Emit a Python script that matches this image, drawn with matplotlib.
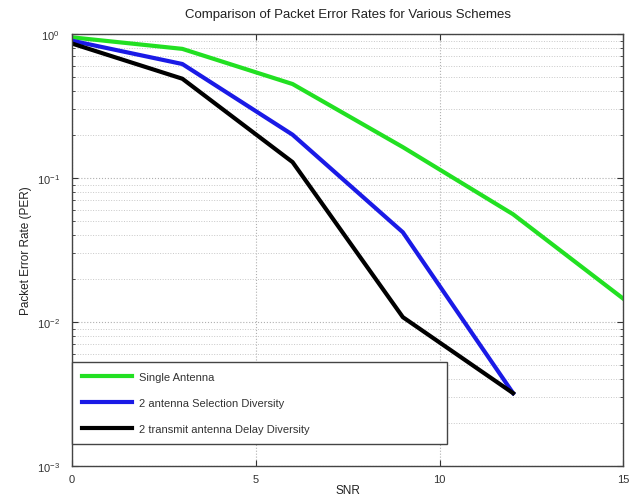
import matplotlib
matplotlib.use("Agg")
import matplotlib.pyplot as plt
from matplotlib.ticker import LogLocator, NullFormatter, FixedLocator

plt.rcParams['font.family'] = ['Liberation Sans', 'DejaVu Sans']
plt.rcParams['mathtext.default'] = 'regular'

snr = [0, 3, 6, 9, 12, 15]
per_single = [0.95, 0.79, 0.45, 0.164, 0.056, 0.0145]
snr_div = [0, 3, 6, 9, 12]
per_selection = [0.90, 0.62, 0.20, 0.042, 0.0032]
per_delay = [0.86, 0.49, 0.129, 0.0108, 0.0032]

labels = ["Single Antenna",
          "2 antenna Selection Diversity",
          "2 transmit antenna Delay Diversity"]
colors = ["#22e022", "#1a1ae6", "#000000"]

fig = plt.figure(figsize=(6.38, 5.02), dpi=100)
ax = fig.add_axes([0.113, 0.070, 0.864, 0.860])

ax.plot(snr, per_single, color=colors[0], lw=3, label=labels[0])
ax.plot(snr_div, per_selection, color=colors[1], lw=3, label=labels[1])
ax.plot(snr_div, per_delay, color=colors[2], lw=3, label=labels[2])

ax.set_yscale('log')
ax.set_xlim(0, 15)
ax.set_ylim(1e-3, 1e0)
ax.xaxis.set_major_locator(FixedLocator([0, 5, 10, 15]))
ax.yaxis.set_major_locator(LogLocator(base=10, numticks=10))
ax.yaxis.set_minor_locator(LogLocator(base=10, subs=range(2, 10), numticks=10))
ax.yaxis.set_minor_formatter(NullFormatter())

ax.grid(True, which='major', color='#b0b0b0', ls=':', lw=0.8)
ax.grid(True, which='minor', axis='y', color='#c8c8c8', ls=':', lw=0.7)
ax.tick_params(which='both', direction='in', top=True, right=True,
               labelsize=8, colors='#333333', length=4)
ax.tick_params(which='minor', length=2)
ax.tick_params(axis='x', pad=6)
ax.tick_params(axis='y', pad=9)
for s in ax.spines.values():
    s.set_color('#444444')
    s.set_linewidth(1.0)

ax.set_title("Comparison of Packet Error Rates for Various Schemes",
             fontsize=9.5, color='#222222', pad=12)
ax.set_xlabel("SNR", fontsize=8.5, color='#222222', labelpad=0)
ax.set_ylabel("Packet Error Rate (PER)", fontsize=8.5, color='#222222', labelpad=3)

leg = ax.legend(loc='lower left', bbox_to_anchor=(0.0, 0.051, 0.68, 0.197),
                mode='expand', borderaxespad=0, fontsize=8,
                handlelength=4.5, labelspacing=1.45, borderpad=0.9,
                fancybox=False, edgecolor='#444444', framealpha=1,
                handletextpad=0.6)
leg.get_frame().set_linewidth(1.0)
for t in leg.get_texts():
    t.set_color('#333333')

fig.savefig("out.png", dpi=100, facecolor='white')
